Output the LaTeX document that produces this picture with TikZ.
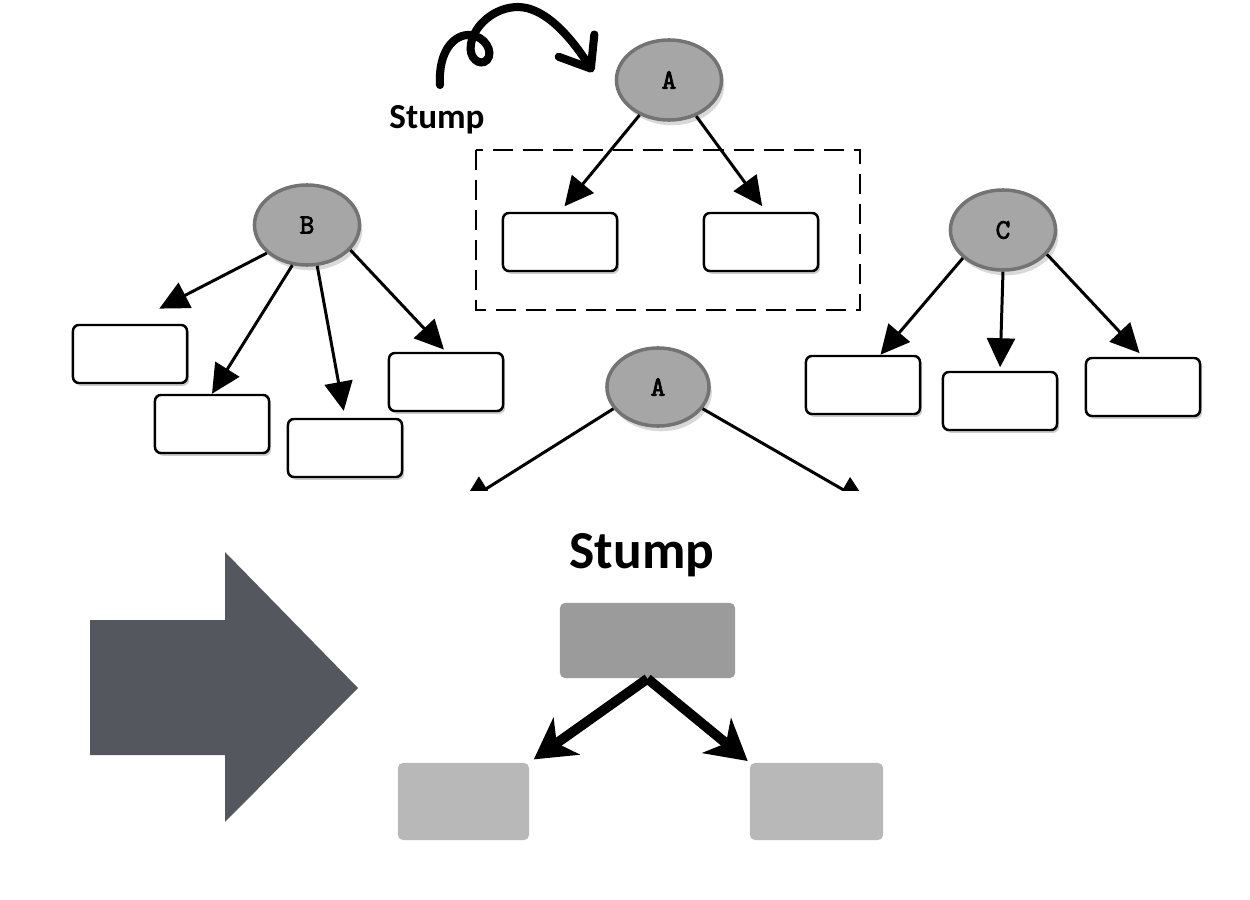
\documentclass[tikz,border=0pt]{standalone}
\usepackage{fontspec}
\setmainfont{Carlito}
\newfontfamily\monofam[Extension=.otf,AutoFakeBold=2.5]{lmmono10-regular}
\usetikzlibrary{arrows.meta,shapes.geometric,shadows}

\begin{document}
\begin{tikzpicture}[x=0.01cm,y=-0.01cm,
  split/.style={ellipse,draw=black!55,line width=1pt,fill=black!35,
    minimum width=1.05cm,minimum height=0.8cm,inner sep=0pt,
    font=\monofam\bfseries\fontsize{8}{8}\selectfont,
    drop shadow={opacity=0.3,shadow xshift=0.8pt,shadow yshift=-1.5pt}},
  leaf/.style={draw,line width=0.7pt,rounded corners=0.06cm,fill=white,
    minimum width=1.14cm,minimum height=0.58cm,inner sep=0pt,
    drop shadow={opacity=0.4,shadow xshift=0.6pt,shadow yshift=-0.8pt}},
  edge/.style={-{Triangle[length=0.29cm,width=0.28cm]},line width=0.85pt},
  stumpbox/.style={rounded corners=0.05cm,inner sep=0pt},
  fat/.style={-{Stealth[length=0.4cm,width=0.45cm,inset=0.12cm]},line width=2.8pt}]

\useasboundingbox (0,0) rectangle (1250,900);

%Albero A (stump)
\begin{scope}
\node[split] (A) at (669,80) {A};
\node[leaf] (a1) at (560,242) {};
\node[leaf] (a2) at (761,242) {};

\draw[edge,shorten >=2pt] (A.230) -- (a1.north);
\draw[edge,shorten >=2pt] (A.307) -- (a2.80);

\draw[line width=0.75pt,dash pattern=on 0.2cm off 0.1cm] (476,150) rectangle (860,310);

\draw[line width=2.3pt,line cap=round,-{Straight Barb[round,length=0.27cm,width=0.42cm]}]
  (440,85) .. controls (438,50) and (455,34) .. (470,35)
  .. controls (485,36) and (494,52) .. (487,60)
  .. controls (480,67) and (468,58) .. (471,44)
  .. controls (474,25) and (495,7) .. (518,7)
  .. controls (546,7) and (573,40) .. (593,72);
\node[anchor=base,font=\bfseries\fontsize{10}{12}\selectfont] (lbl) at (437,128) {Stump};
\end{scope}

%Albero B
\begin{scope}
\node[split] (B) at (307,225) {B};
\node[leaf] (b1) at (130,354) {};
\node[leaf] (b2) at (212,424) {};
\node[leaf] (b3) at (345,448) {};
\node[leaf] (b4) at (446,382) {};

\draw[edge,shorten >=0.33cm] (B.215) -- (b1.north);
\draw[edge] (B.250) -- (b2.north);
\draw[edge,shorten >=0.07cm] (B.284) -- (b3.north);
\draw[edge,shorten >=0.03cm] (B.330) -- (b4.north);
\end{scope}

%Albero C
\begin{scope}
\node[split] (C) at (1003,230) {C};
\node[leaf] (c1) at (863,385) {};
\node[leaf] (c2) at (1000,401) {};
\node[leaf] (c3) at (1143,387) {};

\draw[edge] (C.215) -- (c1.60);
\draw[edge,shorten >=1pt] (C.south) -- (c2.north);
\draw[edge,shorten >=0.05cm] (C.331) -- (c3.north);
\end{scope}

%Albero A in basso
\begin{scope}
\node[split,minimum width=1.02cm,minimum height=0.78cm] (A2) at (658,387) {A};
\coordinate (l) at (462,504);
\coordinate (r) at (868,504);

\draw[edge] (A2.206) -- (l);
\draw[edge] (A2.334) -- (r);
\fill[white] (380,491) rectangle (950,520);
\end{scope}

%Freccia
\fill[fill={rgb,255:red,84;green,87;blue,94}]
  (90,620) -- (225,620) -- (225,552) -- (358,688) -- (225,822) -- (225,755) -- (90,755) -- cycle;

%Stump
\begin{scope}
\node[anchor=base,font=\bfseries\fontsize{15.2}{18}\selectfont] (title) at (642,568) {Stump};
\node[stumpbox,fill={rgb,255:red,155;green,155;blue,155},minimum width=1.75cm,minimum height=0.75cm] (st0) at (647.5,640.5) {};
\node[stumpbox,fill={rgb,255:red,184;green,184;blue,184},minimum width=1.31cm,minimum height=0.77cm] (st1) at (463.5,801.5) {};
\node[stumpbox,fill={rgb,255:red,184;green,184;blue,184},minimum width=1.33cm,minimum height=0.77cm] (st2) at (816.5,801.5) {};

\draw[fat,shorten >=0.05cm] (st0.south) -- (st1.north east);
\draw[fat,shorten >=0.02cm] (st0.south) -- (st2.north west);
\end{scope}

\end{tikzpicture}
\end{document}
